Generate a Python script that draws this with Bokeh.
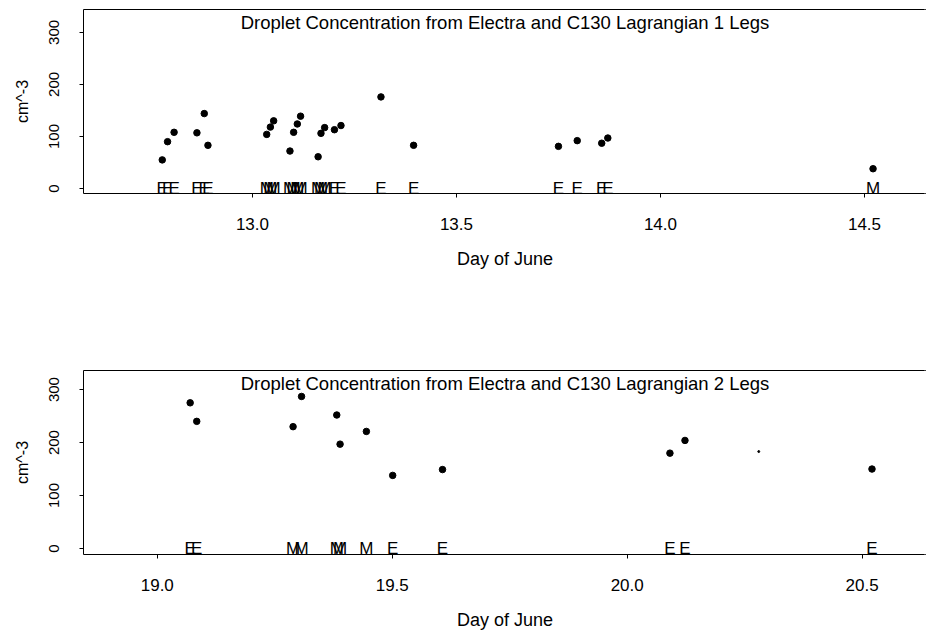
from bokeh.plotting import figure
from bokeh.layouts import column
from bokeh.models import Range1d, FixedTicker, LinearAxis, Label, Span
from bokeh.embed import file_html
from bokeh.resources import INLINE
from bokeh.core.properties import value

FONT = "Liberation Sans"

# ---- Lagrangian 1 legs ----
l1_day = [12.779, 12.792, 12.808, 12.864, 12.882, 12.891,
          13.035, 13.044, 13.052, 13.092, 13.101, 13.110, 13.118,
          13.161, 13.168, 13.177, 13.201, 13.217, 13.315, 13.395,
          13.750, 13.796, 13.856, 13.871, 14.521]
l1_conc = [55, 90, 108, 107, 144, 83,
           104, 118, 130, 72, 108, 124, 139,
           61, 106, 117, 113, 121, 176, 83,
           81, 92, 87, 97, 38]
l1_plane = ["E", "E", "E", "E", "E", "E",
            "M", "M", "M", "M", "M", "M", "M",
            "M", "M", "M", "E", "E", "E", "E",
            "E", "E", "E", "E", "M"]
l1_xticks = [13.0, 13.5, 14.0, 14.5]
l1_xtick_labels = ["13.0", "13.5", "14.0", "14.5"]
l1_title = "Droplet Concentration from Electra and C130 Lagrangian 1 Legs"

# ---- Lagrangian 2 legs ----
l2_day = [19.070, 19.084, 19.289, 19.307, 19.382, 19.389, 19.445,
          19.501, 19.607, 20.091, 20.123, 20.521]
l2_conc = [275, 240, 230, 287, 252, 197, 221, 138, 149, 180, 204, 150]
l2_plane = ["E", "E", "M", "M", "M", "M", "M", "E", "E", "E", "E", "E"]
l2_extra_day = [20.280]
l2_extra_conc = [183]
l2_xticks = [19.0, 19.5, 20.0, 20.5]
l2_xtick_labels = ["19.0", "19.5", "20.0", "20.5"]
l2_title = "Droplet Concentration from Electra and C130 Lagrangian 2 Legs"

yticks = [0, 100, 200, 300]
ytick_labels = ["0", "100", "200", "300"]


def style_axis(ax):
    ax.axis_line_color = "black"
    ax.axis_line_width = 1
    ax.major_tick_line_color = "black"
    ax.major_tick_out = 4
    ax.major_tick_in = 0
    ax.minor_tick_line_color = None
    ax.major_label_text_font = FONT
    ax.major_label_text_color = "black"
    ax.axis_label_text_font = FONT
    ax.axis_label_text_font_style = "normal"
    ax.axis_label_text_color = "black"


def panel(day, conc, plane, xr, yr, xticks, xlabels, title, top, bottom, height):
    p = figure(width=926, height=height, x_range=Range1d(*xr), y_range=Range1d(*yr),
               output_backend="svg", toolbar_location=None,
               min_border_left=83, min_border_right=0,
               min_border_top=top, min_border_bottom=bottom)
    p.outline_line_color = None
    p.grid.visible = False

    xa = p.xaxis[0]
    style_axis(xa)
    xa.ticker = FixedTicker(ticks=xticks)
    xa.major_label_overrides = {t: l for t, l in zip(xticks, xlabels)}
    xa.major_label_text_font_size = "17px"
    xa.major_label_standoff = 20
    xa.axis_label = "Day of June"
    xa.axis_label_text_font_size = "18px"
    xa.axis_label_standoff = 16

    ya = p.yaxis[0]
    style_axis(ya)
    ya.ticker = FixedTicker(ticks=yticks)
    ya.major_label_overrides = {t: l for t, l in zip(yticks, ytick_labels)}
    ya.major_label_orientation = "vertical"
    ya.major_label_text_font_size = "15px"
    ya.major_label_standoff = 20
    ya.axis_label = "cm^-3"
    ya.axis_label_text_font_size = "16px"
    ya.axis_label_standoff = 16

    top_ax = LinearAxis(ticker=FixedTicker(ticks=[]), major_label_text_font_size="0px",
                        axis_line_color="black", major_tick_line_color=None,
                        minor_tick_line_color=None)
    p.add_layout(top_ax, "above")

    p.scatter(day, conc, size=6.5, color="black")
    p.text(x=day, y=[0] * len(day), text=plane, text_font=value(FONT),
           text_font_size="17px", text_align="center", text_baseline="middle",
           text_color="black")

    p.add_layout(Label(x=(xr[0] + xr[1]) / 2, y=yr[1] - (yr[1] - yr[0]) * 0.072,
                       text=title, text_align="center", text_baseline="middle",
                       text_font=FONT, text_font_size="18.5px", text_color="black"))

    # the reference frame runs off the right edge of the page: no right border
    p.add_layout(Span(location=xr[1], dimension="height", line_color="white",
                      line_width=5, level="overlay"))
    return p


p1 = panel(l1_day, l1_conc, l1_plane, (12.586, 14.652), (-9.6, 344),
           l1_xticks, l1_xtick_labels, l1_title, 9, 124, 317)
p2 = panel(l2_day, l2_conc, l2_plane, (18.843, 20.637), (-11.3, 336),
           l2_xticks, l2_xtick_labels, l2_title, 53, 80, 317)
p2.scatter(l2_extra_day, l2_extra_conc, size=2, color="black")

layout = column(p1, p2, spacing=0)
open("out.html", "w").write(file_html(layout, INLINE))
